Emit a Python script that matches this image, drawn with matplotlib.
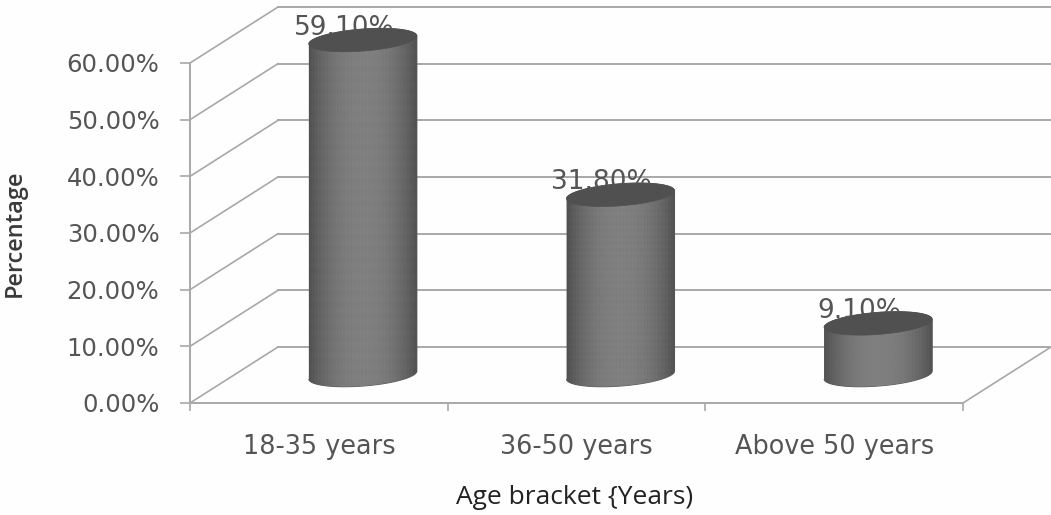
import numpy as np
import matplotlib
matplotlib.use("Agg")
import matplotlib.pyplot as plt
from matplotlib.patches import PathPatch
from matplotlib.path import Path

categories = ["18-35 years", "36-50 years", "Above 50 years"]
values = [59.10, 31.80, 9.10]
value_labels = ["59.10%", "31.80%", "9.10%"]
y_ticks = [0, 10, 20, 30, 40, 50, 60]
y_tick_labels = ["0.00%", "10.00%", "20.00%", "30.00%", "40.00%", "50.00%", "60.00%"]
x_title = "Age bracket {Years)"
y_title = "Percentage"

W, H = 1051, 515
L, R, T, B = 190, 963, 63, 403
GRID = "#a8a8a8"
TXT = "#555555"

fig = plt.figure(figsize=(W / 100, H / 100), dpi=100, facecolor="#fefefe")
ax = fig.add_axes([L / W, 1 - B / H, (R - L) / W, (B - T) / H])
ax.set_xlim(0, 3)
ax.set_ylim(0, 60)
ax.patch.set_alpha(0)

px = (R - L) / 3
py = (B - T) / 60
dx, dy = 88 / px, 56 / py

# walls
for v in y_ticks:
    ax.plot([0, dx], [v, v + dy], color=GRID, lw=1.2, clip_on=False, zorder=1)
    ax.plot([dx, 3 + dx], [v + dy, v + dy], color=GRID, lw=1.4, clip_on=False, zorder=1)
ax.plot([3, 3 + dx], [0, dy], color=GRID, lw=1.2, clip_on=False, zorder=1)

for s in ("top", "right"):
    ax.spines[s].set_visible(False)
for s in ("left", "bottom"):
    ax.spines[s].set_color(GRID)
    ax.spines[s].set_linewidth(1.4)

ax.set_yticks(y_ticks, y_tick_labels)
ax.set_xticks([0, 1, 2, 3], [])
ax.set_xticks([0.5, 1.5, 2.5], categories, minor=True)
ax.tick_params(axis="y", length=7, width=1.2, color=GRID, labelsize=17.5,
               labelcolor=TXT, pad=15)
ax.tick_params(axis="x", which="major", length=5.5, width=1.2, color=GRID)
ax.tick_params(axis="x", which="minor", length=0, labelsize=18.4, labelcolor=TXT, pad=22)

ax.set_ylabel(y_title, fontname="Open Sans", fontweight="semibold", fontsize=17,
              color="#3a3a3a", va="center")
ax.yaxis.set_label_coords((15 - L) / (R - L), (B - 233) / (B - T))
ax.set_xlabel(x_title, fontname="Open Sans", fontsize=19, color="#222222", va="center")
ax.xaxis.set_label_coords((575 - L) / (R - L), (B - 498) / (B - T))

# cylinders
RX, RY, TILT = 54 / px, 11 / py, 4 / py
t = np.linspace(0, 2 * np.pi, 121)
profile = np.linspace(-1, 1, 108)
shade = 0.32 + 0.18 * (1 - np.abs(profile) ** 2.2)
stripes = 0.005 * np.sin(profile * 97) + 0.004 * np.sin(profile * 211)

for i, (val, lab) in enumerate(zip(values, value_labels)):
    cx = i + 0.5 + dx / 2
    y0 = dy / 2
    y1 = y0 + val
    low = t[t >= np.pi]
    up = t[t <= np.pi]
    xs = np.r_[cx + RX * np.cos(low), cx + RX * np.cos(up)]
    ys = np.r_[y0 + RY * np.sin(low) + TILT * np.cos(low),
               y1 + RY * np.sin(up) + TILT * np.cos(up)]
    body = PathPatch(Path(np.c_[xs, ys]), fc="#666666", ec="#5c5c5c", lw=0.8,
                     clip_on=False, zorder=3)
    ax.add_patch(body)
    rows = np.sin(np.arange(120) * 1.7)[:, None] * 0.006
    im = ax.imshow(shade[None, :] + stripes[None, :] + rows, cmap="gray", vmin=0, vmax=1,
                   extent=[cx - RX, cx + RX, y0 - RY - TILT, y1 + RY + TILT],
                   aspect="auto", zorder=3.1, interpolation="bilinear")
    im.set_clip_box(fig.bbox)
    im.set_clip_path(body)
    top = PathPatch(Path(np.c_[cx + RX * np.cos(t),
                               y1 + RY * np.sin(t) + TILT * np.cos(t)]),
                    fc="#505050", ec="#505050", lw=0.5, clip_on=False, zorder=3.2)
    ax.add_patch(top)
    ax.annotate(lab, (cx, y1), xytext=(-13.5, 4), textcoords="offset points",
                ha="center", va="baseline", fontsize=19, color=TXT, zorder=2,
                annotation_clip=False)

ax.set_xlim(0, 3)
ax.set_ylim(0, 60)
ax.set_aspect("auto")
fig.savefig("out.png", dpi=100, facecolor=fig.get_facecolor())
